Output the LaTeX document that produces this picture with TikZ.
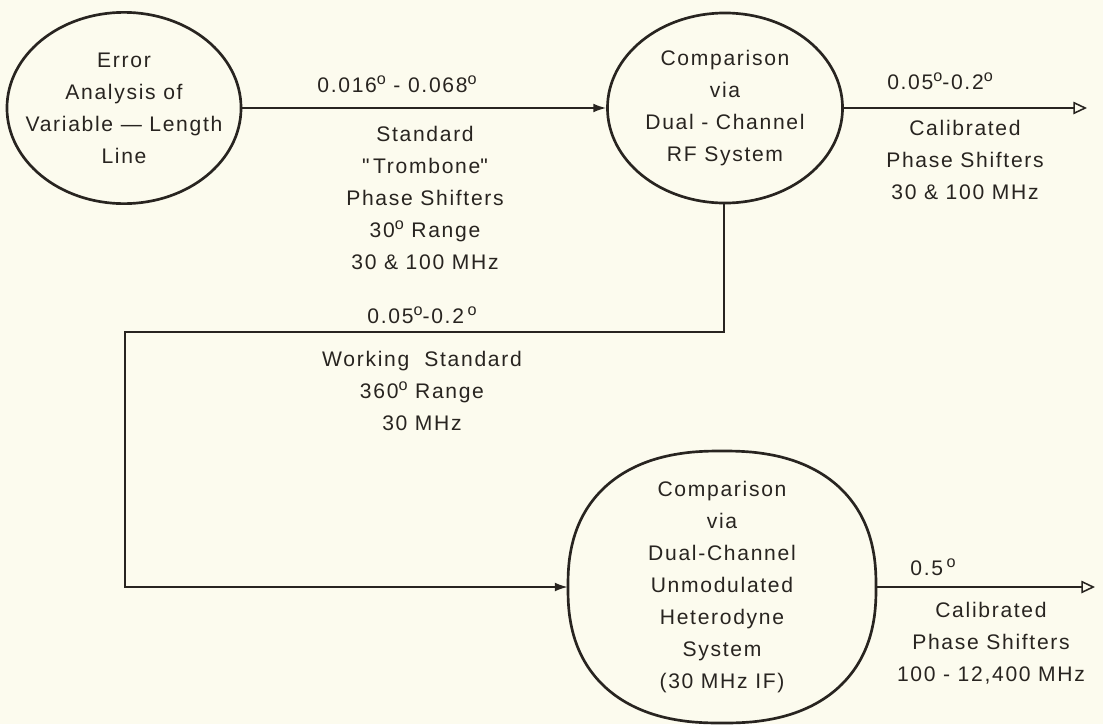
\documentclass[tikz,border=0pt]{standalone}
\usepackage{fontspec}
\setmainfont{Liberation Sans}[LetterSpace=8]
\usetikzlibrary{arrows.meta,shapes.geometric}
\definecolor{paper}{RGB}{252,251,238}
\definecolor{ink}{RGB}{40,36,32}
\newcommand\dg{\raisebox{0.75ex}{\fontsize{11.5}{11.5}\selectfont o}}
\newcommand\qq{\textquotedbl}
\tikzset{
  txt/.style={font=\fontsize{15}{22.8}\selectfont, text=ink, align=center, inner sep=0pt},
  oval/.style={ellipse, draw=ink, line width=1.9pt, txt, inner xsep=-0.8cm, inner ysep=-0.8cm},
  squarebox/.style={rectangle, draw=none, txt},
  outline/.style={draw=ink, line width=1.9pt},
  conn/.style={draw=ink, line width=1.2pt},
  intip/.style={-{Latex[length=3.2mm,width=2.2mm]}},
  outtip/.style={-{Triangle[open,length=3.4mm,width=3.1mm,line width=1.1pt]}}
}
\begin{document}
\begin{tikzpicture}[x=0.025cm,y=-0.025cm]
\fill[paper] (0,0) rectangle (1103,724);
\useasboundingbox (0,0) rectangle (1103,724);

\node[oval, minimum width=5.85cm, minimum height=4.78cm] (n1) at (124,108)
  {Error\\Analysis of\\Variable — Length\\Line};
\node[oval, minimum width=5.875cm, minimum height=4.75cm] (n2) at (725,108)
  {Comparison\\via\\Dual - Channel\\RF System};
\node[squarebox, minimum width=7.7cm, minimum height=6.8cm] (n3) at (722,587)
  {Comparison\\via\\Dual-Channel\\Unmodulated\\Heterodyne\\System\\(30 MHz IF)};
\draw[outline, shift={(n3.center)}] plot[domain=0:360, samples=181, smooth cycle]
  ({154*sign(cos(\x))*pow(abs(cos(\x)),0.84)}, {136*sign(sin(\x))*pow(abs(sin(\x)),0.84)});

\coordinate (o1) at (1087,108);
\coordinate (o2) at (1095,587);
\coordinate (c1) at (724,332);
\coordinate (c2) at (125,332);

\draw[conn,intip] (n1.east) -- (n2.west);
\draw[conn,outtip] (n2.east) -- (o1);
\draw[conn,intip] (n2.south -| c1) |- (c2) |- (n3.west);
\draw[conn,outtip] (n3.east) -- (o2);

\node[txt] (l1) at (397,84) {0.016\dg\ - 0.068\dg};
\node[txt] (l2) at (425,198) {Standard\\\qq\,Trombone\qq\\Phase Shifters\\30\dg\ Range\\30 \& 100 MHz};
\node[txt] (l3) at (940,81) {0.05\dg-0.2\dg};
\node[txt] (l4) at (965,160) {Calibrated\\Phase Shifters\\30 \& 100 MHz};
\node[txt] (l5) at (422,315) {0.05\dg-0.2\,\dg};
\node[txt] (l6) at (422,391) {Working~~Standard\\360\dg\ Range\\30 MHz};
\node[txt] (l7) at (933,567) {0.5\,\dg};
\node[txt] (l8) at (991,643) {Calibrated\\Phase Shifters\\100 - 12,400 MHz};
\end{tikzpicture}
\end{document}
